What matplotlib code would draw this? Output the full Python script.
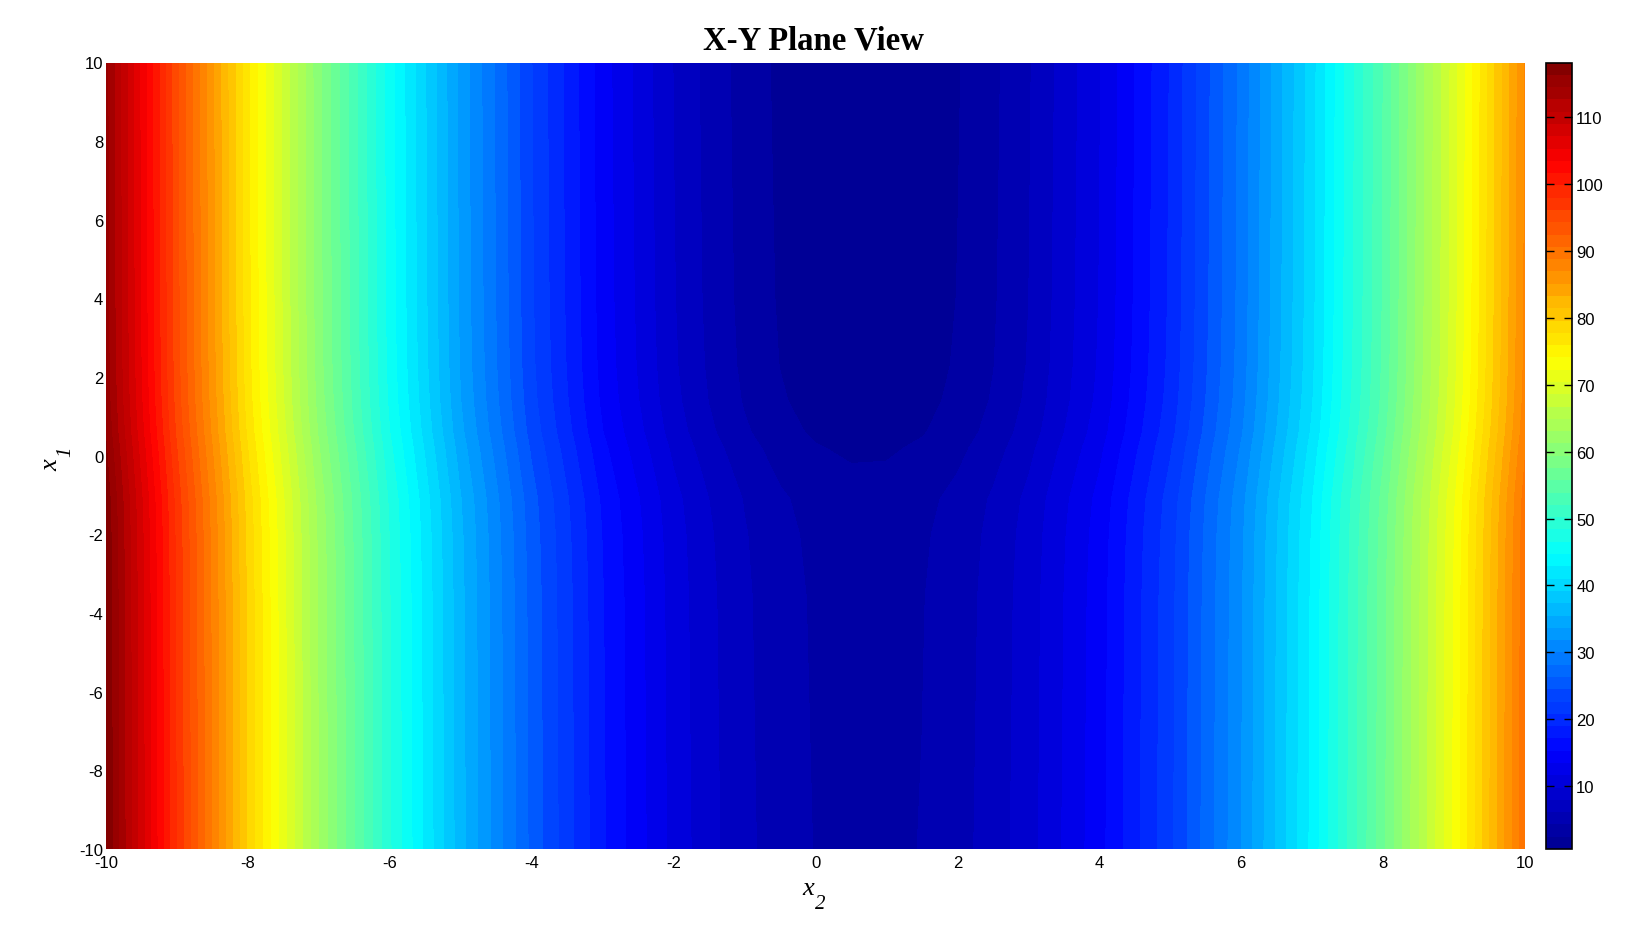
import numpy as np
import matplotlib
matplotlib.use("Agg")
import matplotlib.pyplot as plt
from matplotlib.colors import LinearSegmentedColormap

plt.rcParams['font.family'] = ['Liberation Sans', 'DejaVu Sans']
plt.rcParams['axes.unicode_minus'] = False

# Horizontal axis samples and vertical axis samples
x2_values = [-10, -9, -8, -7, -6, -5, -4, -3, -2, -1.5, -1, -0.5, 0, 0.5, 1, 1.5, 2, 2.5, 3, 4, 5, 6, 7, 8, 9, 10]
x1_values = [-10, -6.2, -3.6, -2, -1.1, -0.3, 0.2, 0.6, 1.4, 2.3, 4, 7, 10]

# Surface height along each x1 row
row_m10_0 = [118.17,97.77,79.37,62.97,48.57,36.17,25.77,17.37,10.97,8.52,6.57,5.12,4.17,3.72,3.77,4.32,5.37,6.92,8.97,14.57,22.17,31.77,43.37,56.97,72.57,90.17]
row_m6_2 = [118.07,97.67,79.27,62.87,48.47,36.07,25.67,17.27,10.87,8.42,6.47,5.02,4.07,3.62,3.67,4.22,5.27,6.82,8.87,14.47,22.07,31.67,43.27,56.87,72.47,90.07]
row_m3_6 = [118.00,97.60,79.20,62.80,48.40,36.00,25.60,17.20,10.80,8.35,6.40,4.95,4.00,3.55,3.60,4.15,5.20,6.75,8.80,14.40,22.00,31.60,43.20,56.80,72.40,90.00]
row_m2_0 = [117.82,97.42,79.02,62.62,48.22,35.82,25.42,17.02,10.62,8.17,6.22,4.77,3.82,3.37,3.42,3.97,5.02,6.57,8.62,14.22,21.82,31.42,43.02,56.62,72.22,89.82]
row_m1_1 = [117.56,97.16,78.76,62.36,47.96,35.56,25.16,16.76,10.36,7.91,5.96,4.51,3.56,3.11,3.16,3.71,4.76,6.31,8.36,13.96,21.56,31.16,42.76,56.36,71.96,89.56]
row_m0_3 = [116.94,96.54,78.14,61.74,47.34,34.94,24.54,16.14,9.74,7.29,5.34,3.89,2.94,2.49,2.54,3.09,4.14,5.69,7.74,13.34,20.94,30.54,42.14,55.74,71.34,88.94]
row_p0_2 = [116.54,96.14,77.74,61.34,46.94,34.54,24.14,15.74,9.34,6.89,4.94,3.49,2.54,2.09,2.14,2.69,3.74,5.29,7.34,12.94,20.54,30.14,41.74,55.34,70.94,88.54]
row_p0_6 = [116.12,95.72,77.32,60.92,46.52,34.12,23.72,15.32,8.92,6.47,4.52,3.07,2.12,1.67,1.72,2.27,3.32,4.87,6.92,12.52,20.12,29.72,41.32,54.92,70.52,88.12]
row_p1_4 = [115.67,95.27,76.87,60.47,46.07,33.67,23.27,14.87,8.47,6.02,4.07,2.62,1.67,1.22,1.27,1.82,2.87,4.42,6.47,12.07,19.67,29.27,40.87,54.47,70.07,87.67]
row_p2_3 = [115.42,95.02,76.62,60.22,45.82,33.42,23.02,14.62,8.22,5.77,3.82,2.37,1.42,0.97,1.02,1.57,2.62,4.17,6.22,11.82,19.42,29.02,40.62,54.22,69.82,87.42]
row_p4_0 = [115.25,94.85,76.45,60.05,45.65,33.25,22.85,14.45,8.05,5.60,3.65,2.20,1.25,0.80,0.85,1.40,2.45,4.00,6.05,11.65,19.25,28.85,40.45,54.05,69.65,87.25]
row_p7_0 = [115.15,94.75,76.35,59.95,45.55,33.15,22.75,14.35,7.95,5.50,3.55,2.10,1.15,0.70,0.75,1.30,2.35,3.90,5.95,11.55,19.15,28.75,40.35,53.95,69.55,87.15]
row_p10_0 = [115.06,94.66,76.26,59.86,45.46,33.06,22.66,14.26,7.86,5.41,3.46,2.01,1.06,0.61,0.66,1.21,2.26,3.81,5.86,11.46,19.06,28.66,40.26,53.86,69.46,87.06]

axis_ticks = [-10, -8, -6, -4, -2, 0, 2, 4, 6, 8, 10]
bar_ticks = [10, 20, 30, 40, 50, 60, 70, 80, 90, 100, 110]
value_min, value_max = 0.57, 118.2
band_count = 64

jet_colors = [(0.0, (0, 0, 0.5625)), (0.125, (0, 0, 1)), (0.375, (0, 1, 1)),
              (0.625, (1, 1, 0)), (0.875, (1, 0, 0)), (1.0, (0.5, 0, 0))]
jet_map = LinearSegmentedColormap.from_list('matlab_jet', jet_colors, N=256)

W, H = 1632, 945
fig = plt.figure(figsize=(W / 100, H / 100), dpi=100, facecolor='white')
top = 63.5
ax = fig.add_axes([106 / W, 1 - 850 / H, (1525 - 106) / W, (850 - top) / H])
cax = fig.add_axes([1546 / W, 1 - 850 / H, (1572 - 1546) / W, (850 - top) / H])

z = np.array([row_m10_0, row_m6_2, row_m3_6, row_m2_0, row_m1_1, row_m0_3, row_p0_2,
              row_p0_6, row_p1_4, row_p2_3, row_p4_0, row_p7_0, row_p10_0])
levels = np.linspace(value_min, value_max, band_count + 1)
cs = ax.contourf(x2_values, x1_values, z, levels=levels, cmap=jet_map)
ax.set_xlim(-10, 10)
ax.set_ylim(-10, 10)
ax.set_xticks(axis_ticks)
ax.set_yticks(axis_ticks)
ax.tick_params(axis='y', length=0, labelsize=12, pad=2)
ax.tick_params(axis='x', length=0, labelsize=12, pad=4)
for s in ax.spines.values():
    s.set_visible(False)

cb = fig.colorbar(cs, cax=cax)
cb.set_ticks(bar_ticks)
cb.minorticks_off()
cax.tick_params(axis='y', which='major', direction='in', left=True, right=True,
                length=6, width=1, labelsize=12, pad=3, color='black')
cb.outline.set_edgecolor('black')
cb.outline.set_linewidth(1.2)

serif = 'Liberation Serif'
fig.text(813 / W, 1 - 49 / H, 'X-Y Plane View', family=serif, weight='bold',
         fontsize=23.6, ha='center', va='baseline')
fig.text(802 / W, 1 - 895 / H, 'x', family=serif, style='italic', fontsize=19,
         ha='left', va='baseline')
fig.text(815 / W, 1 - 909 / H, '2', family=serif, style='italic', fontsize=15,
         ha='left', va='baseline')
fig.text(57 / W, 1 - 471 / H, 'x', family=serif, style='italic', fontsize=19,
         ha='left', va='baseline', rotation=90, rotation_mode='anchor')
fig.text(70 / W, 1 - 457 / H, '1', family=serif, style='italic', fontsize=15,
         ha='left', va='baseline', rotation=90, rotation_mode='anchor')

fig.savefig('out.png', dpi=100, facecolor='white')
